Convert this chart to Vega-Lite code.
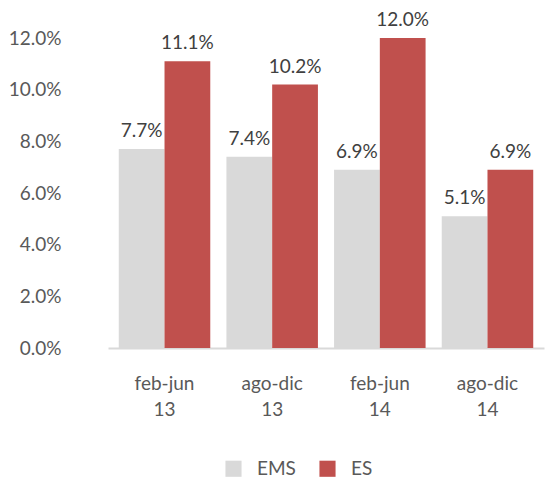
{
  "$schema": "https://vega.github.io/schema/vega-lite/v6.json",
  "width": 436,
  "height": 310,
  "padding": {"left": 8, "top": 11, "right": 2, "bottom": 2},
  "background": "white",
  "config": {
    "view": {"stroke": null},
    "font": "Lato",
    "axis": {"labelFont": "Lato", "labelColor": "#595959", "labelFontSize": 19}
  },
  "data": {
    "values": [
      {"periodo": "feb-jun 13", "serie": "EMS", "valor": 0.077},
      {"periodo": "feb-jun 13", "serie": "ES", "valor": 0.111},
      {"periodo": "ago-dic 13", "serie": "EMS", "valor": 0.074},
      {"periodo": "ago-dic 13", "serie": "ES", "valor": 0.102},
      {"periodo": "feb-jun 14", "serie": "EMS", "valor": 0.069},
      {"periodo": "feb-jun 14", "serie": "ES", "valor": 0.120},
      {"periodo": "ago-dic 14", "serie": "EMS", "valor": 0.051},
      {"periodo": "ago-dic 14", "serie": "ES", "valor": 0.069}
    ]
  },
  "encoding": {
    "x": {
      "field": "periodo", "type": "nominal", "sort": null, "title": null,
      "scale": {"paddingInner": 0.15, "paddingOuter": 0.1},
      "axis": {"labelAngle": 0, "labelExpr": "split(datum.label, ' ')", "domainColor": "#d9d9d9", "domainWidth": 2, "ticks": false, "labelPadding": 26, "labelLineHeight": 26}
    },
    "xOffset": {"field": "serie", "type": "nominal", "sort": ["EMS", "ES"], "scale": {"paddingInner": 0}},
    "y": {
      "field": "valor", "type": "quantitative", "title": null,
      "scale": {"domain": [0, 0.12]},
      "axis": {"format": ".1%", "values": [0, 0.02, 0.04, 0.06, 0.08, 0.1, 0.12], "domain": false, "ticks": false, "grid": false, "labelPadding": 47}
    }
  },
  "layer": [
    {
      "mark": {"type": "bar"},
      "encoding": {
        "color": {
          "field": "serie", "type": "nominal", "sort": ["EMS", "ES"],
          "scale": {"domain": ["EMS", "ES"], "range": ["#d9d9d9", "#c0504d"]},
          "legend": {"orient": "none", "legendX": 116, "legendY": 421, "direction": "horizontal", "title": null, "symbolType": "square", "symbolSize": 260, "symbolStrokeWidth": 0, "labelFontSize": 19, "labelColor": "#595959", "labelFont": "Lato", "columnPadding": 22, "labelOffset": 14}
        }
      }
    },
    {
      "mark": {"type": "text", "dy": -18, "fontSize": 19, "color": "#404040", "font": "Lato"},
      "encoding": {"text": {"field": "valor", "type": "quantitative", "format": ".1%"}}
    }
  ]
}
